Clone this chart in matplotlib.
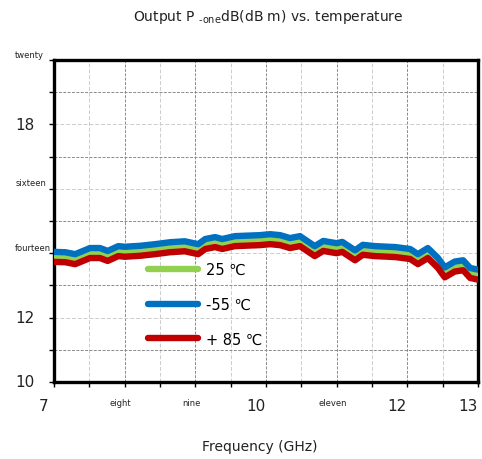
import matplotlib
matplotlib.use("Agg")
import matplotlib.pyplot as plt
from matplotlib.transforms import ScaledTranslation

# Output P-1dB versus frequency at three temperatures
freq_ghz = [7.00, 7.16, 7.30, 7.51, 7.65, 7.76, 7.91, 8.00, 8.22, 8.43,
            8.64, 8.85, 9.04, 9.14, 9.28, 9.38, 9.56, 9.91, 10.06, 10.20,
            10.34, 10.48, 10.69, 10.81, 11.00, 11.08, 11.26, 11.37, 11.54, 11.83,
            12.04, 12.15, 12.29, 12.43, 12.53, 12.67, 12.79, 12.89, 13.00]
p_25c = [13.88, 13.87, 13.81, 14.00, 14.00, 13.91, 14.06, 14.04, 14.07, 14.12,
         14.18, 14.21, 14.12, 14.28, 14.34, 14.28, 14.37, 14.40, 14.43, 14.40,
         14.31, 14.37, 14.06, 14.22, 14.15, 14.19, 13.93, 14.10, 14.06, 14.03,
         13.97, 13.81, 14.00, 13.70, 13.40, 13.58, 13.62, 13.38, 13.33]
p_m55c = [14.04, 14.03, 13.97, 14.16, 14.16, 14.07, 14.22, 14.20, 14.23, 14.28,
          14.34, 14.37, 14.28, 14.44, 14.50, 14.44, 14.53, 14.56, 14.59, 14.56,
          14.47, 14.53, 14.22, 14.38, 14.31, 14.35, 14.09, 14.26, 14.22, 14.19,
          14.13, 13.97, 14.16, 13.86, 13.56, 13.74, 13.78, 13.54, 13.49]
p_85c = [13.73, 13.72, 13.66, 13.85, 13.85, 13.76, 13.91, 13.89, 13.92, 13.97,
         14.03, 14.06, 13.97, 14.13, 14.19, 14.13, 14.22, 14.25, 14.28, 14.25,
         14.16, 14.22, 13.91, 14.07, 14.00, 14.04, 13.78, 13.95, 13.91, 13.88,
         13.82, 13.66, 13.85, 13.55, 13.25, 13.43, 13.47, 13.23, 13.18]

series_labels = ["25 \u2103", "-55 \u2103", "+ 85 \u2103"]
series_colors = ["#92d050", "#0070c0", "#c00000"]

x_ticks = [7, 8, 9, 10, 11, 12, 13]
x_tick_labels = ["7", "eight", "nine", "10", "eleven", "12", "13"]
y_ticks = [10, 12, 14, 16, 18, 20]
y_tick_labels = ["10", "12", "fourteen", "sixteen", "18", "twenty"]
word_labels = {"eight", "nine", "eleven", "fourteen", "sixteen", "twenty"}

fig = plt.figure(figsize=(4.82, 4.60), dpi=100)
ax = fig.add_axes([54 / 482, 1 - 383 / 460, 424 / 482, 322 / 460])

for vals, lab, col in zip([p_25c, p_m55c, p_85c], series_labels, series_colors):
    ax.plot(freq_ghz, vals, color=col, lw=4.6, label=lab,
            solid_joinstyle="round", solid_capstyle="round", zorder=3)

ax.set_xlim(7, 13)
ax.set_ylim(10, 20)

# grids: integer GHz darker, half GHz lighter; odd dB darker, even dB lighter
dark = dict(color="#8a8a8a", lw=0.7, ls=(0, (3, 1.5)), zorder=1)
light = dict(color="#cccccc", lw=0.7, ls=(0, (4, 2)), zorder=1)
for xv in [8, 9, 10, 11, 12]:
    ax.axvline(xv, **dark)
for xv in [7.5, 8.5, 9.5, 10.5, 11.5, 12.5]:
    ax.axvline(xv, **light)
for yv in [11, 13, 15, 17, 19]:
    ax.axhline(yv, **dark)
for yv in [12, 14, 16, 18]:
    ax.axhline(yv, **light)

for sp in ax.spines.values():
    sp.set_linewidth(2.4)
    sp.set_color("black")

ax.set_xticks(x_ticks)
ax.set_xticks([7.5, 8.5, 9.5, 10.5, 11.5, 12.5], minor=True)
ax.set_yticks(y_ticks)
ax.set_yticks([11, 13, 15, 17, 19], minor=True)
ax.set_xticklabels(x_tick_labels)
ax.set_yticklabels(y_tick_labels)
ax.tick_params(axis="both", which="both", direction="out", length=3.5,
               width=1.0, color="black")
ax.tick_params(axis="x", which="major", pad=8)
ax.tick_params(axis="y", which="major", pad=24.5)

for t in ax.get_xticklabels():
    small = t.get_text() in word_labels
    t.set_fontsize(6 if small else 11)
    t.set_color("#222222")
    dx = -4 / 100 if small else -10 / 100
    t.set_transform(t.get_transform() + ScaledTranslation(dx, 0, fig.dpi_scale_trans))
for t in ax.get_yticklabels():
    small = t.get_text() in word_labels
    t.set_fontsize(6 if small else 11)
    t.set_color("#222222")
    t.set_horizontalalignment("left")
    dy = 7 / 100 if small else 1.5 / 100
    t.set_transform(t.get_transform() + ScaledTranslation(0, dy, fig.dpi_scale_trans))

ax.set_xlabel("Frequency (GHz)", fontsize=10, color="#222222")
ax.xaxis.set_label_coords((260 - 54) / 424, (383 - 447) / 322)
ax.xaxis.label.set_verticalalignment("center")

fig.text(268 / 482, 1 - 17 / 460,
         r"Output P $_{\text{-one}}$dB(dB m) vs. temperature",
         ha="center", va="center", fontsize=10, color="#222222")

leg = ax.legend(loc="upper left", bbox_to_anchor=((148 - 54) / 424, (383 - 263) / 322),
                frameon=False, fontsize=10.5, handlelength=3.4, handletextpad=0.55,
                labelspacing=1.35, borderpad=0, borderaxespad=0)
for h in leg.get_lines():
    h.set_solid_capstyle("round")
    h.set_linewidth(4.6)

fig.savefig("out.png", dpi=100)
